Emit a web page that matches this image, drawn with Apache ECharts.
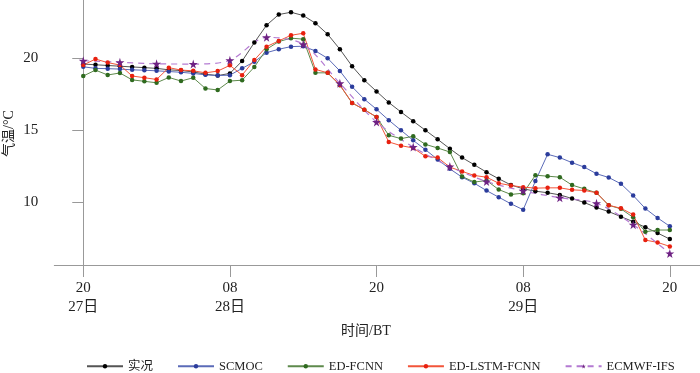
<!DOCTYPE html>
<html><head><meta charset="utf-8">
<script src="https://cdn.jsdelivr.net/npm/echarts@6/dist/echarts.min.js"></script>
<style>html,body{margin:0;padding:0;background:#fff}#c{width:700px;height:373px}</style>
</head><body><div id="c"></div>
<script>
// Hours since 20 BT on the 27th
const hours = [0,1,2,3,4,5,6,7,8,9,10,11,12,13,14,15,16,17,18,19,20,21,22,23,24,25,26,27,28,29,30,31,32,33,34,35,36,37,38,39,40,41,42,43,44,45,46,47,48];
const ecHours = [0,3,6,9,12,15,18,21,24,27,30,33,36,39,42,45,48];
const tickHours = [0,12,24,36,48];
const tickLabels = ['20\n27日','08\n28日','20','08\n29日','20'];
const yTicks = [10,15,20];

const obs = [19.6,19.55,19.5,19.45,19.4,19.35,19.3,19.2,19.15,19.05,18.9,18.8,18.95,19.81,21.09,22.3,23.04,23.2,22.97,22.44,21.67,20.63,19.45,18.48,17.7,16.93,16.27,15.63,15.0,14.37,13.72,13.1,12.6,12.09,11.63,11.2,10.93,10.77,10.66,10.51,10.26,9.98,9.63,9.35,9.0,8.65,8.26,7.86,7.44];
const scmoc = [19.41,19.3,19.28,19.25,19.2,19.17,19.13,19.08,19.03,18.95,18.85,18.8,18.83,19.3,19.76,20.39,20.63,20.81,20.84,20.51,20.0,19.12,18.02,17.16,16.46,15.7,15.0,14.3,13.65,12.97,12.32,11.74,11.32,10.81,10.35,9.89,9.48,11.47,13.33,13.1,12.75,12.44,11.98,11.72,11.28,10.47,9.56,8.91,8.33];
const edFcnn = [18.77,19.18,18.84,18.98,18.5,18.4,18.3,18.67,18.42,18.65,17.9,17.8,18.42,18.48,19.39,20.63,21.16,21.4,21.33,18.99,18.99,18.13,16.9,16.43,15.92,14.65,14.42,14.58,14.02,13.77,13.49,11.79,11.4,11.51,10.88,10.54,10.63,11.88,11.81,11.74,11.19,10.93,10.66,9.79,9.54,8.95,7.95,8.07,8.07];
const edLstm = [19.53,19.95,19.7,19.53,18.77,18.65,18.53,19.35,19.18,19.13,18.99,19.11,19.51,18.83,19.88,20.81,21.21,21.6,21.74,19.23,18.99,18.15,16.9,16.43,15.92,14.19,13.93,13.77,13.19,13.1,12.44,12.14,11.86,11.74,11.32,11.16,11.05,10.98,11.0,11.0,10.86,10.82,10.66,9.79,9.58,9.14,7.37,7.21,6.93];
const ecmwf = [19.83,19.72,19.62,19.6,19.86,21.46,20.97,18.26,15.57,13.84,12.48,11.44,10.79,10.31,9.93,8.44,6.44];

const FONT = "'Liberation Serif','Noto Sans CJK SC',serif";
const STAR = 'path://M50,0 L61,35 L98,35 L68,57 L79,91 L50,70 L21,91 L32,57 L2,35 L39,35 Z';

function pairs(xs, ys){ return xs.map((h,i)=>[h, ys[i]]); }
function mk(name, xs, ys, lineColor, markColor, extra){
  return Object.assign({
    name: name, type:'line', data: pairs(xs, ys),
    symbol:'circle', symbolSize:4.5, showSymbol:true,
    lineStyle:{color:lineColor, width:1},
    itemStyle:{color:markColor},
    emphasis:{disabled:true}
  }, extra || {});
}

const chart = echarts.init(document.getElementById('c'), null, {renderer:'canvas'});
chart.setOption({
  animation:false,
  backgroundColor:'#fff',
  grid:{left:54.3, right:0, top:0, bottom:108},
  xAxis:{
    type:'value', min:-2.37, max:50.47,
    axisLine:{lineStyle:{color:'#999', width:1}},
    axisTick:{show:true, customValues:tickHours, length:12, lineStyle:{color:'#999'}},
    axisLabel:{customValues:tickHours, formatter:function(v){ return tickLabels[tickHours.indexOf(v)]; },
      margin:14, fontFamily:FONT, fontSize:15, lineHeight:19, color:'#222'},
    splitLine:{show:false}
  },
  yAxis:{
    type:'value', min:5.64, max:24.05,
    axisLine:{show:true, lineStyle:{color:'#999', width:1}},
    axisTick:{show:true, customValues:yTicks, length:11, lineStyle:{color:'#999'}},
    axisLabel:{customValues:yTicks, margin:16, fontFamily:FONT, fontSize:15, color:'#222'},
    splitLine:{show:false}
  },
  legend:{
    left:81, top:355, itemWidth:36, itemHeight:5.5, itemGap:24,
    textStyle:{fontFamily:FONT, fontSize:12.5, color:'#222'},
    data:['实况','SCMOC','ED-FCNN','ED-LSTM-FCNN','ECMWF-IFS']
  },
  graphic:[
    {type:'text', x:366, y:331.7, style:{text:'时间/BT', font:"14px "+FONT, fill:'#222', align:'center', verticalAlign:'middle', textAlign:'center', textVerticalAlign:'middle'}},
    {type:'text', x:9, y:133.5, rotation:Math.PI/2, style:{text:'气温/°C', font:"14px "+FONT, fill:'#222', align:'center', verticalAlign:'middle', textAlign:'center', textVerticalAlign:'middle'}}
  ],
  series:[
    mk('实况', hours, obs, '#555', '#000'),
    mk('SCMOC', hours, scmoc, '#5b6bb8', '#2b3c9c'),
    mk('ED-FCNN', hours, edFcnn, '#5e8a4c', '#2f6a1f'),
    mk('ED-LSTM-FCNN', hours, edLstm, '#f2553a', '#e8200f'),
    mk('ECMWF-IFS', ecHours, ecmwf, '#b47ad2', '#6e2183', {symbol:STAR, symbolSize:9, smooth:0.3, lineStyle:{color:'#b47ad2', width:1.2, type:[6,5]}})
  ]
});
</script></body></html>
